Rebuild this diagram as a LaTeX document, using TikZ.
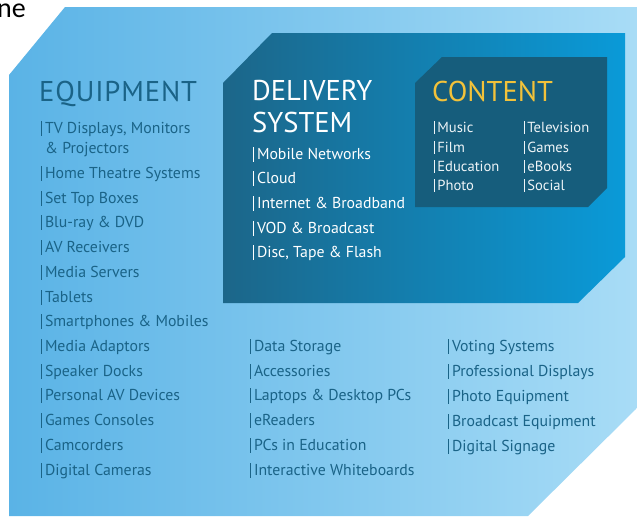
\documentclass[tikz,border=0pt]{standalone}
\usepackage{fontspec}
\setmainfont{PT Sans}
\newfontfamily\capfont{Carlito}
\definecolor{outerL}{HTML}{5AB3E6}
\definecolor{outerR}{HTML}{A8DCF6}
\definecolor{delL}{HTML}{1C6689}
\definecolor{delR}{HTML}{0A9AD8}
\definecolor{contC}{HTML}{165D7C}
\definecolor{txt}{HTML}{1A6387}
\definecolor{gold}{HTML}{F2C23A}
\definecolor{soft}{HTML}{EEF4F7}
\newcommand\vbar{\rule[-2.5pt]{0.8pt}{14.5pt}\hspace{3pt}}
\newcommand\sbar{\rule[-2pt]{0.7pt}{13pt}\hspace{2.5pt}}
\tikzset{
  item/.style={anchor=base west, inner sep=0pt, text=txt, font=\fontsize{15.8}{18}\selectfont},
  ditem/.style={item, text=white},
  citem/.style={anchor=base west, inner sep=0pt, text=soft, font=\fontsize{14.6}{16}\selectfont},
  head/.style={anchor=base west, inner sep=0pt, font=\fontsize{28.6}{31}\selectfont},
}
\begin{document}
\begin{tikzpicture}[x=1pt,y=-1pt]
\useasboundingbox (0,0) rectangle (637,517);
% shapes
\shade[left color=outerL,right color=outerR] (65,7) -- (637,7) -- (637,408) -- (528,516) -- (9,516) -- (9,75) -- cycle;
\shade[left color=delL,right color=delR] (272,33) -- (625,33) -- (625,257) -- (578,303) -- (223,303) -- (223,83) -- cycle;
\fill[contC] (442,57) -- (607,57) -- (607,188) -- (588,207) -- (415,207) -- (415,83) -- cycle;
% cut-off text
\node[anchor=base west, inner sep=0pt, font=\capfont\fontsize{28}{30}\selectfont] (ne) at (-3,17) {ne};
% headings
\node[head, text=txt] (equip) at (39,101) {\addfontfeature{LetterSpace=3}EQUIPMENT};
\node[head, text=white] (deliv1) at (252,100) {DELIVERY};
\node[head, text=white] (deliv2) at (252,132) {SYSTEM};
\node[head, text=gold] (cont) at (432,101) {CONTENT};
% equipment column
\foreach \y/\t in {133/{TV Displays, Monitors},178/{Home Theatre Systems},203/{Set Top Boxes},227/{Blu-ray \& DVD},252/{AV Receivers},277/{Media Servers},302/{Tablets},326/{Smartphones \& Mobiles},351/{Media Adaptors},376/{Speaker Docks},400/{Personal AV Devices},425/{Games Consoles},450/{Camcorders},475/{Digital Cameras}}
  \node[item] (eq\y) at (41,\y) {\vbar\t};
\node[item] (eqproj) at (45,153) {\& Projectors};
% bottom middle column
\foreach \y/\t in {351/{Data Storage},376/{Accessories},400/{Laptops \& Desktop PCs},425/{eReaders},450/{PCs in Education},475/{Interactive Whiteboards}}
  \node[item] (mid\y) at (250,\y) {\vbar\t};
% bottom right column
\foreach \y/\t in {351/{Voting Systems},376/{Professional Displays},401/{Photo Equipment},426/{Broadcast Equipment},451/{Digital Signage}}
  \node[item] (rt\y) at (448,\y) {\vbar\t};
% delivery items
\foreach \y/\t in {159/{Mobile Networks},183/{Cloud},208/{Internet \& Broadband},233/{VOD \& Broadcast},257/{Disc, Tape \& Flash}}
  \node[ditem] (dl\y) at (253,\y) {\vbar\t};
% content items
\foreach \y/\t in {132/{Music},152/{Film},171/{Education},190/{Photo}}
  \node[citem] (ca\y) at (434,\y) {\sbar\t};
\foreach \y/\t in {132/{Television},152/{Games},171/{eBooks},190/{Social}}
  \node[citem] (cb\y) at (524,\y) {\sbar\t};
\end{tikzpicture}
\end{document}
